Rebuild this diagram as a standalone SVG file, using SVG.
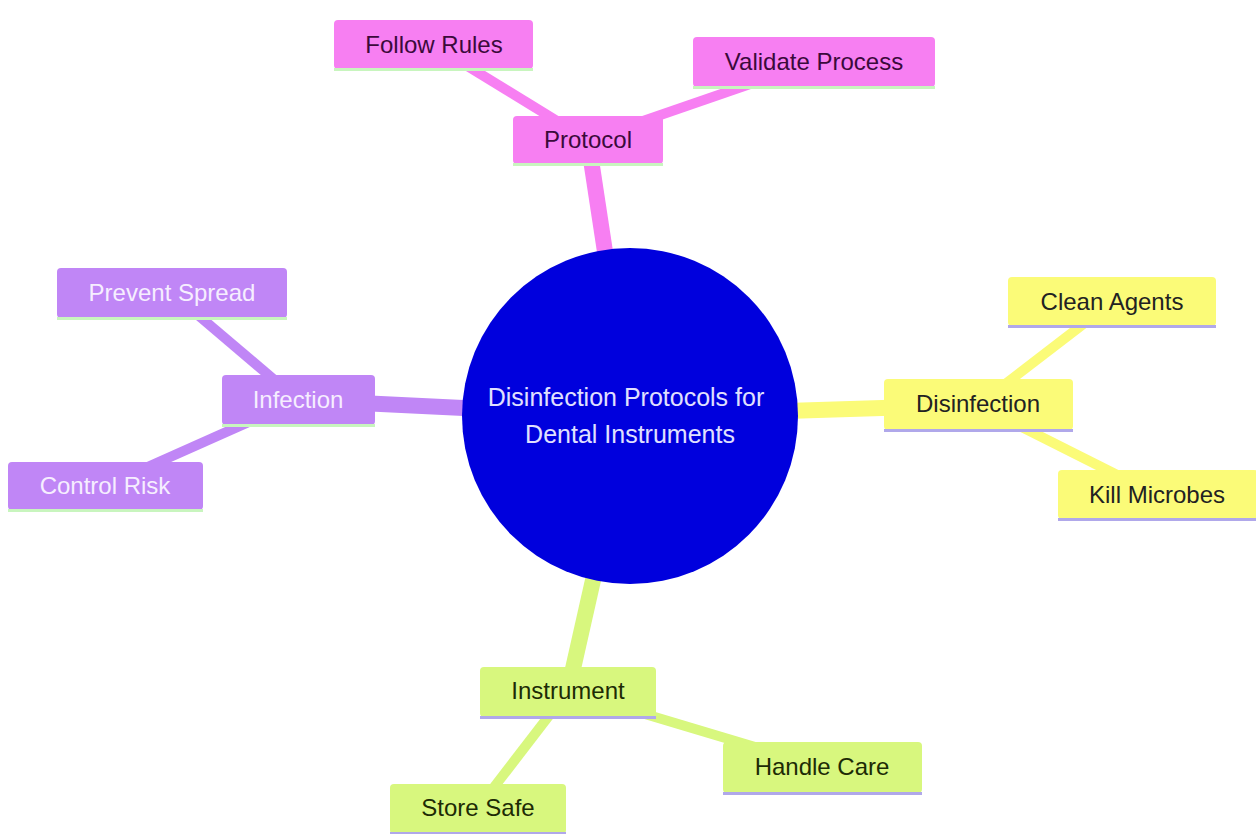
<svg xmlns="http://www.w3.org/2000/svg" width="1256" height="834" viewBox="0 0 1256 834">
<style>
  text { font-family: "Liberation Sans", Arial, sans-serif; font-size: 24px; text-anchor: middle; }
  .pink rect.box { fill: #F77FF2; }
  .pink text { fill: #3b0a3b; }
  .purple rect.box { fill: #C086F6; }
  .purple text { fill: #F6EEFF; }
  .yellow rect.box { fill: #FBFB78; }
  .yellow text { fill: #222222; }
  .green rect.box { fill: #D8F77E; }
  .green text { fill: #1d2b05; }
  .pink rect.base, .purple rect.base { fill: #C8F5BE; }
  .yellow rect.base, .green rect.base { fill: #B0A8EA; }
  .e1 { stroke-width: 16; fill: none; }
  .e2 { stroke-width: 10; fill: none; }
  .ep { stroke: #F77FF2; }
  .eu { stroke: #C086F6; }
  .ey { stroke: #FBFB78; }
  .eg { stroke: #D8F77E; }
  .root circle { fill: #0000DD; }
  .root text { fill: #E0E0FF; font-size: 25px; }
</style>
<rect width="1256" height="834" fill="#FFFFFF"/>
<g id="connectors">
  <line class="e1 ep" x1="630" y1="416" x2="588" y2="140"/>
  <line class="e2 ep" x1="588" y1="140" x2="433" y2="45"/>
  <line class="e2 ep" x1="588" y1="140" x2="814" y2="62"/>
  <line class="e1 eu" x1="630" y1="416" x2="298" y2="400"/>
  <line class="e2 eu" x1="298" y1="400" x2="172" y2="293"/>
  <line class="e2 eu" x1="298" y1="400" x2="105" y2="486"/>
  <line class="e1 ey" x1="630" y1="416" x2="978" y2="405"/>
  <line class="e2 ey" x1="978" y1="405" x2="1112" y2="302"/>
  <line class="e2 ey" x1="978" y1="405" x2="1157" y2="495"/>
  <line class="e1 eg" x1="630" y1="416" x2="568" y2="691"/>
  <line class="e2 eg" x1="568" y1="691" x2="822" y2="767"/>
  <line class="e2 eg" x1="568" y1="691" x2="478" y2="808"/>
</g>
<g id="root" class="root">
  <circle cx="630" cy="416" r="168"/>
  <text x="626" y="406">Disinfection Protocols for</text>
  <text x="630" y="443">Dental Instruments</text>
</g>
<g id="protocol" class="pink">
  <rect class="box" x="513" y="116" width="150" height="48" rx="4"/>
  <rect class="base" x="513" y="163" width="150" height="3"/>
  <text x="588" y="148">Protocol</text>
</g>
<g id="follow-rules" class="pink">
  <rect class="box" x="334" y="20" width="199" height="49" rx="4"/>
  <rect class="base" x="334" y="68" width="199" height="3"/>
  <text x="434" y="53">Follow Rules</text>
</g>
<g id="validate-process" class="pink">
  <rect class="box" x="693" y="37" width="242" height="50" rx="4"/>
  <rect class="base" x="693" y="86" width="242" height="3"/>
  <text x="814" y="70">Validate Process</text>
</g>
<g id="infection" class="purple">
  <rect class="box" x="222" y="375" width="153" height="50" rx="4"/>
  <rect class="base" x="222" y="424" width="153" height="3"/>
  <text x="298" y="408">Infection</text>
</g>
<g id="prevent-spread" class="purple">
  <rect class="box" x="57" y="268" width="230" height="50" rx="4"/>
  <rect class="base" x="57" y="317" width="230" height="3"/>
  <text x="172" y="301">Prevent Spread</text>
</g>
<g id="control-risk" class="purple">
  <rect class="box" x="8" y="462" width="195" height="48" rx="4"/>
  <rect class="base" x="8" y="509" width="195" height="3"/>
  <text x="105" y="494">Control Risk</text>
</g>
<g id="disinfection" class="yellow">
  <rect class="box" x="884" y="379" width="189" height="51" rx="4"/>
  <rect class="base" x="884" y="429" width="189" height="3"/>
  <text x="978" y="412">Disinfection</text>
</g>
<g id="clean-agents" class="yellow">
  <rect class="box" x="1008" y="277" width="208" height="49" rx="4"/>
  <rect class="base" x="1008" y="325" width="208" height="3"/>
  <text x="1112" y="310">Clean Agents</text>
</g>
<g id="kill-microbes" class="yellow">
  <rect class="box" x="1058" y="470" width="200" height="49" rx="4"/>
  <rect class="base" x="1058" y="518" width="200" height="3"/>
  <text x="1157" y="503">Kill Microbes</text>
</g>
<g id="instrument" class="green">
  <rect class="box" x="480" y="667" width="176" height="50" rx="4"/>
  <rect class="base" x="480" y="716" width="176" height="3"/>
  <text x="568" y="699">Instrument</text>
</g>
<g id="handle-care" class="green">
  <rect class="box" x="723" y="742" width="199" height="51" rx="4"/>
  <rect class="base" x="723" y="792" width="199" height="3"/>
  <text x="822" y="775">Handle Care</text>
</g>
<g id="store-safe" class="green">
  <rect class="box" x="390" y="784" width="176" height="50" rx="4"/>
  <rect class="base" x="390" y="832" width="176" height="3"/>
  <text x="478" y="816">Store Safe</text>
</g>
</svg>
